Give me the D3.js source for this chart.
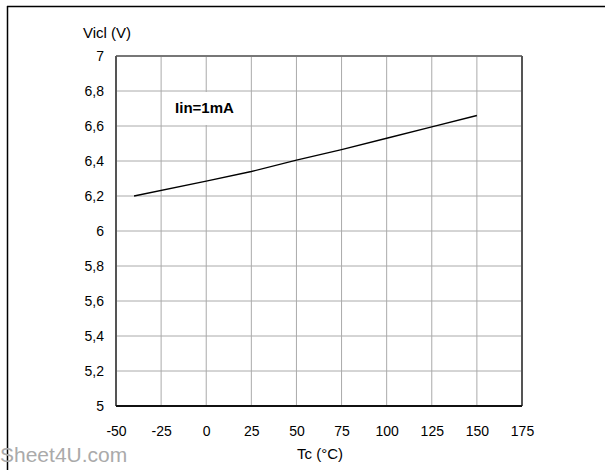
<!DOCTYPE html>
<html>
<head>
<meta charset="utf-8">
<script src="https://cdn.jsdelivr.net/npm/d3@7"></script>
<style>
  body { margin: 0; background: #fff; }
  text { font-family: "Liberation Sans", Arial, sans-serif; }
</style>
</head>
<body>
<div id="chart"></div>
<script>
// data
const temps = [-40, 0, 25, 50, 75, 100, 125, 150];
const vicl = [6.2, 6.285, 6.34, 6.405, 6.465, 6.53, 6.595, 6.66];
const xTicks = [-50, -25, 0, 25, 50, 75, 100, 125, 150, 175];
const yTicks = [5, 5.2, 5.4, 5.6, 5.8, 6, 6.2, 6.4, 6.6, 6.8, 7];

const W = 605, H = 470;
const margin = { top: 56, right: 83, bottom: 64, left: 116 };
const width = W - margin.left - margin.right;
const height = H - margin.top - margin.bottom;

const root = d3.select("#chart").append("svg")
  .attr("width", W).attr("height", H);

// outer frame (top + left only)
root.append("line").attr("x1", 7).attr("y1", 6.5).attr("x2", W).attr("y2", 6.5)
  .attr("stroke", "#000").attr("stroke-width", 1.5);
root.append("line").attr("x1", 7.5).attr("y1", 6).attr("x2", 7.5).attr("y2", H)
  .attr("stroke", "#000").attr("stroke-width", 1.5);

const svg = root.append("g")
  .attr("transform", `translate(${margin.left},${margin.top})`);

const x = d3.scaleLinear().domain([-50, 175]).range([0, width]);
const y = d3.scaleLinear().domain([5, 7]).range([height, 0]);

const fmt = d => String(+d.toFixed(1)).replace(".", ",");

// grid
svg.append("g").selectAll("line").data(xTicks.slice(1, -1)).join("line")
  .attr("x1", d => x(d)).attr("x2", d => x(d))
  .attr("y1", 0).attr("y2", height)
  .attr("stroke", "#aaa").attr("stroke-width", 1);
svg.append("g").selectAll("line").data(yTicks.slice(1, -1)).join("line")
  .attr("x1", 0).attr("x2", width)
  .attr("y1", d => y(d)).attr("y2", d => y(d))
  .attr("stroke", "#aaa").attr("stroke-width", 1);

// plot frame
svg.append("line").attr("x1", 0).attr("x2", width).attr("y1", 0).attr("y2", 0)
  .attr("stroke", "#777").attr("stroke-width", 2);
svg.append("line").attr("x1", width).attr("x2", width).attr("y1", 0).attr("y2", height)
  .attr("stroke", "#555").attr("stroke-width", 2);
svg.append("line").attr("x1", 0).attr("x2", 0).attr("y1", 0).attr("y2", height)
  .attr("stroke", "#555").attr("stroke-width", 2);
svg.append("line").attr("x1", 0).attr("x2", width).attr("y1", height).attr("y2", height)
  .attr("stroke", "#111").attr("stroke-width", 2);

// axes (labels only)
const xAxis = svg.append("g")
  .attr("transform", `translate(0,${height})`)
  .call(d3.axisBottom(x).tickValues(xTicks).tickSize(0).tickPadding(20).tickFormat(d => d));
const yAxis = svg.append("g")
  .call(d3.axisLeft(y).tickValues(yTicks).tickSize(0).tickPadding(12).tickFormat(fmt));
[xAxis, yAxis].forEach(a => {
  a.select(".domain").remove();
  a.selectAll("text").attr("font-size", 14).attr("fill", "#000")
    .style("font-family", "'Liberation Sans', Arial, sans-serif");
});

// curve
svg.append("path")
  .datum(temps.map((t, i) => [t, vicl[i]]))
  .attr("fill", "none").attr("stroke", "#000").attr("stroke-width", 1.3)
  .attr("d", d3.line().x(d => x(d[0])).y(d => y(d[1])));

// condition label with white box
svg.append("rect")
  .attr("x", x(-25) + 1).attr("y", y(6.8) + 1)
  .attr("width", 85).attr("height", 33)
  .attr("fill", "#fff");
svg.append("text")
  .attr("x", x(-25) + 14).attr("y", y(6.8) + 22)
  .attr("font-size", 15).attr("font-weight", "bold")
  .text("Iin=1mA");

// axis titles
root.append("text").attr("x", 83).attr("y", 38)
  .attr("font-size", 15).text("Vicl (V)");
root.append("text").attr("x", 320).attr("y", 459)
  .attr("text-anchor", "middle").attr("font-size", 15).text("Tc (°C)");

// watermark
root.append("text").attr("x", 0).attr("y", 462)
  .attr("font-size", 21).attr("fill", "#aaa").text("Sheet4U.com");
</script>
</body>
</html>
